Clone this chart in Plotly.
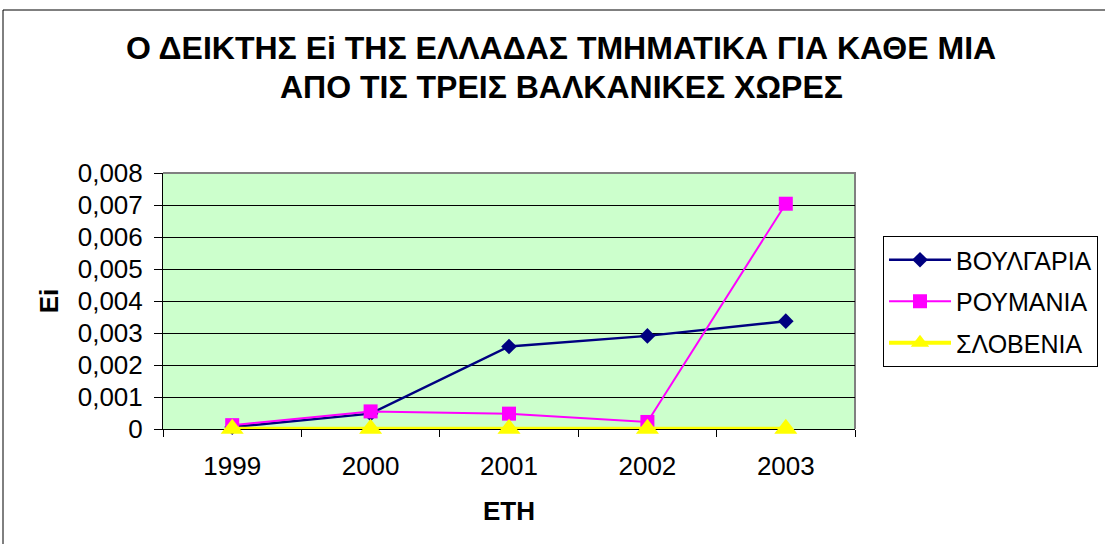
import plotly.graph_objects as go

years = ["1999", "2000", "2001", "2002", "2003"]
bulgaria = [0.00006, 0.00048, 0.00258, 0.00291, 0.00337]
romania = [0.00012, 0.00055, 0.00048, 0.00022, 0.00704]
slovenia = [0.00001, 0.00001, 0.00001, 0.00001, 0.00001]
series_names = ["ΒΟΥΛΓΑΡΙΑ", "ΡΟΥΜΑΝΙΑ", "ΣΛΟΒΕΝΙΑ"]
y_tickvals = [0, 0.001, 0.002, 0.003, 0.004, 0.005, 0.006, 0.007, 0.008]
y_ticktext = ["0", "0,001", "0,002", "0,003", "0,004", "0,005", "0,006", "0,007", "0,008"]
title_lines = ["Ο ΔΕΙΚΤΗΣ Ei ΤΗΣ ΕΛΛΑΔΑΣ ΤΜΗΜΑΤΙΚΑ ΓΙΑ ΚΑΘΕ ΜΙΑ",
               "ΑΠΟ ΤΙΣ ΤΡΕΙΣ ΒΑΛΚΑΝΙΚΕΣ ΧΩΡΕΣ"]

FONT = "Liberation Sans, Arial, sans-serif"
W, H = 1105, 544
L, R, T, B = 163, 250, 173, 115
pw, ph = W - L - R, H - T - B

def px(x):
    return (x - L) / pw

def py(y):
    return (H - B - y) / ph

fig = go.Figure()
fig.add_trace(go.Scatter(x=years, y=bulgaria, name=series_names[0], mode="lines+markers",
                         legendgroup="a", cliponaxis=False,
                         line=dict(color="#000080", width=2.5),
                         marker=dict(symbol="diamond", size=12, color="#000080")))
fig.add_trace(go.Scatter(x=years, y=romania, name=series_names[1], mode="lines+markers",
                         legendgroup="b", cliponaxis=False,
                         line=dict(color="#FF00FF", width=2),
                         marker=dict(symbol="square", size=14, color="#FF00FF")))
fig.add_trace(go.Scatter(x=years, y=slovenia, name=series_names[2], mode="lines+markers",
                         legendgroup="c", cliponaxis=False,
                         line=dict(color="#FFFF00", width=4),
                         marker=dict(symbol="triangle-up", size=20, color="#FFFF00")))

for text, ypix in zip(title_lines, [48, 87]):
    fig.add_annotation(text="<b>" + text + "</b>", xref="paper", yref="paper",
                       x=px(561), y=py(ypix), xanchor="center", yanchor="middle",
                       showarrow=False, font=dict(family=FONT, size=32, color="black"))

fig.update_layout(
    width=W, height=H,
    margin=dict(l=L, r=R, t=T, b=B, autoexpand=False),
    paper_bgcolor="white",
    plot_bgcolor="#CCFFCC",
    font=dict(family=FONT, size=26, color="black"),
    showlegend=True,
    legend=dict(x=px(883), y=py(236), xanchor="left", yanchor="top",
                bordercolor="black", borderwidth=1, bgcolor="white",
                tracegroupgap=6, itemwidth=62,
                font=dict(family=FONT, size=25, color="black")),
    xaxis=dict(type="category", tickson="boundaries", ticks="outside", ticklen=7,
               tickcolor="black", showline=True, linecolor="black", linewidth=1,
               showgrid=False, range=[-0.5, 4.5], ticklabelstandoff=14,
               layer="below traces",
               title=dict(text="<b>ΕΤΗ</b>", standoff=21, font=dict(size=26))),
    yaxis=dict(range=[0, 0.008], tickvals=y_tickvals, ticktext=y_ticktext,
               ticks="outside", ticklen=8, tickcolor="black",
               showline=True, linecolor="black", linewidth=1,
               showgrid=True, gridcolor="black", gridwidth=1, zeroline=False,
               ticklabelstandoff=6, layer="below traces",
               title=dict(text="<b>Ei</b>", standoff=11, font=dict(size=26))),
)

# gray plot-area frame (top and right edges)
fig.add_shape(type="path", xref="paper", yref="paper", path="M 0,1 L 1,1 L 1,0",
              line=dict(color="#808080", width=2), layer="below")
# outer chart border
fig.add_shape(type="rect", xref="paper", yref="paper",
              x0=px(3), x1=px(1110), y0=py(550), y1=py(10),
              line=dict(color="black", width=1), layer="below")

fig.write_html("out.html", config={"displayModeBar": False},
               post_script="document.body.style.margin='0';")
